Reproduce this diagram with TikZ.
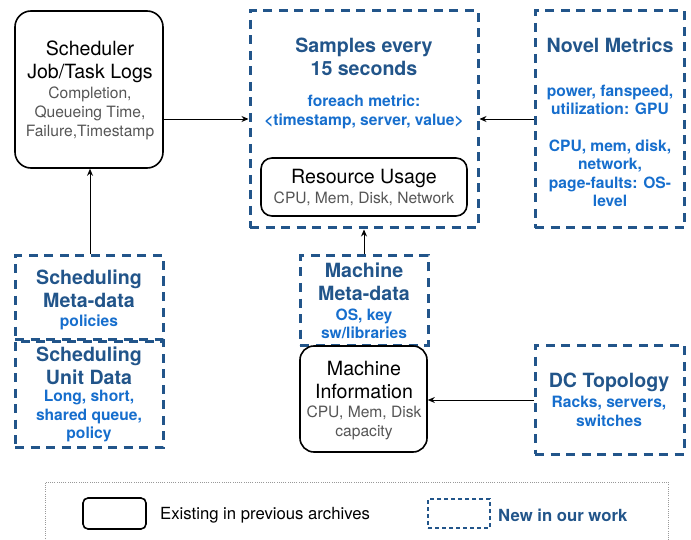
\documentclass[tikz,border=0pt]{standalone}
\usepackage{fontspec}
\setmainfont{TeX Gyre Heros}
\usetikzlibrary{arrows.meta}
\definecolor{dblue}{RGB}{34,85,138}
\definecolor{lblue}{RGB}{22,110,205}
\definecolor{subgray}{RGB}{85,85,85}
\tikzset{
  oldbox/.style={draw=black, line width=1.6pt, rounded corners=16pt, inner sep=0pt},
  newbox/.style={draw=dblue, line width=3pt, dash pattern=on 9pt off 6.5pt, inner sep=0pt},
  ttl/.style={align=center, inner sep=0pt, font=\fontsize{19.6}{23}\selectfont, text=black},
  sub/.style={align=center, inner sep=0pt, font=\fontsize{15.6}{19}\selectfont, text=subgray},
  nttl/.style={align=center, inner sep=0pt, font=\fontsize{19.6}{23}\selectfont\bfseries, text=dblue},
  nsub/.style={align=center, inner sep=0pt, font=\fontsize{15.6}{18.5}\selectfont\bfseries, text=lblue},
  arr/.style={-{Stealth[length=7pt,width=6pt]}, line width=0.9pt, black},
}
\newcommand{\boxat}[6]{\node[#1, minimum width=#4pt-#2pt, minimum height=#5pt-#3pt] (#6) at ({(#2+#4)/2},{(#3+#5)/2}) {};}
\begin{document}
\begin{tikzpicture}[x=1pt,y=-1pt]
\useasboundingbox (0,0) rectangle (691,540);
\clip (0,0) rectangle (691,540);
% boxes
\boxat{oldbox}{15}{11}{163}{168}{sched}
\boxat{newbox}{250}{11}{478}{228}{samples}
\boxat{oldbox, rounded corners=11pt}{261}{158}{467}{216}{res}
\boxat{newbox}{535}{11}{684}{228}{novel}
\boxat{newbox}{15}{256}{163}{339}{smeta}
\boxat{newbox}{15}{341}{163}{447}{sunit}
\boxat{newbox}{300}{256}{428}{345}{mmeta}
\boxat{oldbox, rounded corners=14pt}{300}{346}{427}{452}{minfo}
\boxat{newbox}{535}{345}{684}{454}{dc}
% texts
\node[ttl] (schedT) at (90,61.5) {Scheduler\\Job/Task Logs};
\node[sub] (schedS) at (90,113) {Completion,\\Queueing Time,\\Failure,Timestamp};
\node[nttl] (samplesT) at (364,56.5) {Samples every\\15 seconds};
\node[nsub] (samplesS) at (364,112) {foreach metric:\\\symbol{"3C}timestamp, server, value\symbol{"3E}};
\node[ttl] (resT) at (364,178) {Resource Usage};
\node[sub] (resS) at (364,199) {CPU, Mem, Disk, Network};
\node[nttl] (novelT) at (610,45) {Novel Metrics};
\node[nsub] (novelS1) at (610,100) {power, fanspeed,\\utilization: GPU};
\node[nsub] (novelS2) at (610,173.5) {CPU, mem, disk,\\network,\\page-faults: OS-\\level};
\node[nttl] (smetaT) at (89,289) {Scheduling\\Meta-data};
\node[nsub] (smetaS) at (89,322) {policies};
\node[nttl] (sunitT) at (89,365.5) {Scheduling\\Unit Data};
\node[nsub] (sunitS) at (89,416.5) {Long, short,\\shared queue,\\policy};
\node[nttl] (mmetaT) at (364,282) {Machine\\Meta-data};
\node[nsub] (mmetaS) at (364,324) {OS, key\\sw/libraries};
\node[ttl] (minfoT) at (364,380.5) {Machine\\Information};
\node[sub] (minfoS) at (364,422.5) {CPU, Mem, Disk\\capacity};
\node[nttl] (dcT) at (609,382) {DC Topology};
\node[nsub] (dcS) at (609,411.5) {Racks, servers,\\switches};
% arrows
\draw[arr] (sched.east |- 0,119) -- (samples.west |- 0,119);
\draw[arr] (novel.west |- 0,119) -- (samples.east |- 0,119);
\draw[arr] (smeta.north -| 90,0) -- (sched.south -| 90,0);
\draw[arr] (mmeta.north) -- (samples.south -| mmeta.north);
\draw[arr] (dc.west |- 0,400) -- (minfo.east |- 0,400);
% legend
\node[draw=gray!80, line width=1pt, dash pattern=on 1pt off 1.2pt, minimum width=623pt, minimum height=80pt, inner sep=0pt] (legend) at (356.5,522) {};
\node[draw=black, line width=1.6pt, rounded corners=5pt, minimum width=63pt, minimum height=31pt, inner sep=0pt] (legOld) at (114.5,513.5) {};
\node[anchor=west, inner sep=0pt, font=\fontsize{16.7}{19}\selectfont] (legOldT) at (160,515) {Existing in previous archives};
\node[draw=dblue, line width=1.6pt, dash pattern=on 4pt off 3pt, minimum width=62pt, minimum height=29pt, inner sep=0pt] (legNew) at (459,513.5) {};
\node[anchor=west, inner sep=0pt, font=\fontsize{16.7}{19}\selectfont\bfseries, text=dblue] (legNewT) at (498,515) {New in our work};
\end{tikzpicture}
\end{document}
